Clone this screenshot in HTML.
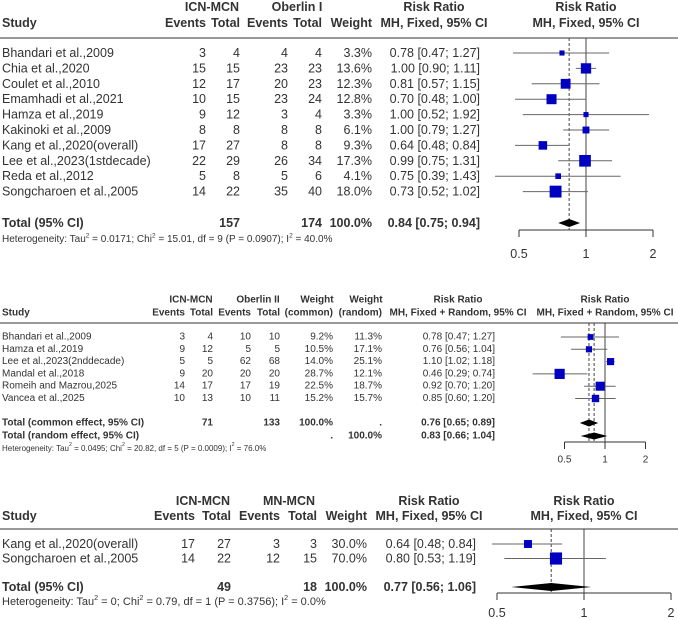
<!DOCTYPE html>
<html><head><meta charset="utf-8"><style>
html,body{margin:0;padding:0;background:#fff;}
svg{display:block;font-family:"Liberation Sans",Arial,sans-serif;}
text{fill:#333;}
</style></head><body>
<svg id="chart" width="678" height="620" viewBox="0 0 678 620" xmlns="http://www.w3.org/2000/svg"></svg>
<script>
// Panel 1: ICN-MCN vs Oberlin I
const studies1 = ["Bhandari et al.,2009","Chia et al.,2020","Coulet et al.,2010","Emamhadi et al.,2021","Hamza et al.,2019","Kakinoki et al.,2009","Kang et al.,2020(overall)","Lee et al.,2023(1stdecade)","Reda et al.,2012","Songcharoen et al.,2005"];
const evA1 = [3,15,12,10,9,8,17,22,5,14];
const totA1 = [4,15,17,15,12,8,27,29,8,22];
const evB1 = [4,23,20,23,3,8,8,26,5,35];
const totB1 = [4,23,23,24,4,8,8,34,6,40];
const weight1 = [3.3,13.6,12.3,12.8,3.3,6.1,9.3,17.3,4.1,18.0];
const rr1 = [0.78,1.00,0.81,0.70,1.00,1.00,0.64,0.99,0.75,0.73];
const lo1 = [0.47,0.90,0.57,0.48,0.52,0.79,0.48,0.75,0.39,0.52];
const hi1 = [1.27,1.11,1.15,1.00,1.92,1.27,0.84,1.31,1.43,1.02];
const total1 = {a:157,b:174,rr:0.84,lo:0.75,hi:0.94};
const ticks1 = [0.5,1,2];

// Panel 2: ICN-MCN vs Oberlin II
const studies2 = ["Bhandari et al.,2009","Hamza et al.,2019","Lee et al.,2023(2nddecade)","Mandal et al.,2018","Romeih and Mazrou,2025","Vancea et al.,2025"];
const evA2 = [3,9,5,9,14,10];
const totA2 = [4,12,5,20,17,13];
const evB2 = [10,5,62,20,17,10];
const totB2 = [10,5,68,20,19,11];
const wCommon2 = [9.2,10.5,14.0,28.7,22.5,15.2];
const wRandom2 = [11.3,17.1,25.1,12.1,18.7,15.7];
const rr2 = [0.78,0.76,1.10,0.46,0.92,0.85];
const lo2 = [0.47,0.56,1.02,0.29,0.70,0.60];
const hi2 = [1.27,1.04,1.18,0.74,1.20,1.20];
const common2 = {a:71,b:133,rr:0.76,lo:0.65,hi:0.89};
const random2 = {rr:0.83,lo:0.66,hi:1.04};
const ticks2 = [0.5,1,2];

// Panel 3: ICN-MCN vs MN-MCN
const studies3 = ["Kang et al.,2020(overall)","Songcharoen et al.,2005"];
const evA3 = [17,14];
const totA3 = [27,22];
const evB3 = [3,12];
const totB3 = [3,15];
const weight3 = [30.0,70.0];
const rr3 = [0.64,0.80];
const lo3 = [0.48,0.53];
const hi3 = [0.84,1.19];
const total3 = {a:49,b:18,rr:0.77,lo:0.56,hi:1.06};
const ticks3 = [0.5,1,2];

const NS="http://www.w3.org/2000/svg";
const svg=document.getElementById('chart');
function el(tag,attrs,parent){const e=document.createElementNS(NS,tag);for(const k in attrs)e.setAttribute(k,attrs[k]);(parent||svg).appendChild(e);return e;}
function txt(s,x,y,size,anchor,bold,parent){const t=el('text',{x:x,y:y,'font-size':size,'text-anchor':anchor||'start','dominant-baseline':'central'},parent);if(bold)t.setAttribute('font-weight','bold');t.textContent=s;return t;}
function ci(r,l,h){return r.toFixed(2)+" ["+l.toFixed(2)+"; "+h.toFixed(2)+"]";}
function het(parent,x,y,size,tau,chi,df,p,i2){
  const t=el('text',{x:x,y:y,'font-size':size,'dominant-baseline':'central'},parent);
  const parts=[["Heterogeneity: Tau",0],["2",1],[" = "+tau+"; Chi",0],["2",1],[" = "+chi+", df = "+df+" (P = "+p+"); I",0],["2",1],[" = "+i2,0]];
  parts.forEach(([s,sup])=>{const ts=el('tspan',{},t);if(sup){ts.setAttribute('font-size',size*0.65);ts.setAttribute('dy',-size*0.35);}else if(t.childNodes.length>1){ts.setAttribute('dy',size*0.35);}ts.textContent=s;});
  // fix dy sequence
  return t;
}
function makeX(x1,pxPerLog2){return v=>x1+pxPerLog2*Math.log2(v);}
function axis(g,xs,ticks,y,ty,tickSize){
  el('line',{x1:xs(ticks[0]),x2:xs(ticks[ticks.length-1]),y1:y,y2:y,stroke:'#333','stroke-width':1},g);
  ticks.forEach(t=>{
    const l=el('line',{x1:xs(t),x2:xs(t),y1:y,y2:y+7,stroke:'#333','stroke-width':1},g);
    
    const lb=txt(String(t),xs(t),ty,tickSize,'middle',false,g);
    
    
  });
}
function study(g,xs,y,r,l,h,side,clipL,clipR){
  const x1=Math.max(xs(l),clipL),x2=Math.min(xs(h),clipR);
  const ln=el('line',{x1:x1,x2:x2,y1:y,y2:y,stroke:'#666','stroke-width':1},g);
  
  const sq=el('rect',{x:xs(r)-side/2,y:y-side/2,width:side,height:side,fill:'#0000c0'},g);
  
  
}
function diamond(g,xs,y,o,hh){
  const d=el('polygon',{points:xs(o.lo)+","+y+" "+xs(o.rr)+","+(y-hh)+" "+xs(o.hi)+","+y+" "+xs(o.rr)+","+(y+hh),fill:'#000'},g);
  
  
}
function vline(g,x,y1,y2,dash,name){const l=el('line',{x1:x,x2:x,y1:y1,y2:y2,stroke:'#444','stroke-width':1},g);if(dash)l.setAttribute('stroke-dasharray','3,2');}

// ---------- Panel 1 ----------
(function(){
  const g=el('g',{});
  
  
  const fs=12.5, xs=makeX(586,67);
  const rowY=i=>53+i*15.4;
  [["ICN-MCN",212],["Oberlin I",297],["Risk Ratio",434],["Risk Ratio",586]].forEach(([s,x])=>txt(s,x,7,fs,'middle',true,g));
  txt("Study",2,23,fs,'start',true,g);
  [["Events",206],["Total",240],["Events",288],["Total",322],["Weight",372]].forEach(([s,x])=>txt(s,x,23,fs,'end',true,g));
  txt("MH, Fixed, 95% CI",434,23,fs,'middle',true,g);
  txt("MH, Fixed, 95% CI",586,23,fs,'middle',true,g);
  el('line',{x1:0,x2:678,y1:38,y2:38,stroke:'#999','stroke-width':2},g);
  vline(g,xs(1),38,230,false,'null-line');
  vline(g,xs(total1.rr),38,230,true,'summary-line');
  studies1.forEach((s,i)=>{
    const y=rowY(i);
    txt(s,2,y,fs,'start',false,g);
    txt(evA1[i],206,y,fs,'end',false,g);txt(totA1[i],240,y,fs,'end',false,g);
    txt(evB1[i],288,y,fs,'end',false,g);txt(totB1[i],322,y,fs,'end',false,g);
    txt(weight1[i].toFixed(1)+"%",372,y,fs,'end',false,g);
    txt(ci(rr1[i],lo1[i],hi1[i]),480,y,fs,'end',false,g);
    study(g,xs,y,rr1[i],lo1[i],hi1[i],2.8*Math.sqrt(weight1[i]),492,678);
  });
  txt("Total (95% CI)",2,223,fs,'start',true,g);
  txt(total1.a,240,223,fs,'end',true,g);txt(total1.b,322,223,fs,'end',true,g);
  txt("100.0%",372,223,fs,'end',true,g);
  txt(ci(total1.rr,total1.lo,total1.hi),480,223,fs,'end',true,g);
  diamond(g,xs,223,total1,4);
  het(g,2,239,10,"0.0171","15.01",9,"0.0907","40.0%");
  axis(g,xs,ticks1,230,254,12.5);
})();

// ---------- Panel 2 ----------
(function(){
  const g=el('g',{});
  
  
  const fs=10, xs=makeX(605,40.5);
  const rowY=i=>337+i*12.3;
  [["ICN-MCN",191],["Oberlin II",258],["Weight",317],["Weight",366],["Risk Ratio",458],["Risk Ratio",605]].forEach(([s,x])=>txt(s,x,300,fs,'middle',true,g));
  txt("Study",2,313,fs,'start',true,g);
  [["Events",185],["Total",213],["Events",251],["Total",280],["(common)",333],["(random)",382]].forEach(([s,x])=>txt(s,x,313,fs,'end',true,g));
  txt("MH, Fixed + Random, 95% CI",458,313,fs,'middle',true,g);
  txt("MH, Fixed + Random, 95% CI",605,313,fs,'middle',true,g);
  el('line',{x1:0,x2:678,y1:323,y2:323,stroke:'#999','stroke-width':2},g);
  vline(g,xs(1),323,442,false,'null-line');
  vline(g,xs(common2.rr),323,442,true,'common-summary-line');
  vline(g,xs(random2.rr),323,442,true,'random-summary-line');
  studies2.forEach((s,i)=>{
    const y=rowY(i);
    txt(s,2,y,fs,'start',false,g);
    txt(evA2[i],185,y,fs,'end',false,g);txt(totA2[i],213,y,fs,'end',false,g);
    txt(evB2[i],251,y,fs,'end',false,g);txt(totB2[i],280,y,fs,'end',false,g);
    txt(wCommon2[i].toFixed(1)+"%",333,y,fs,'end',false,g);
    txt(wRandom2[i].toFixed(1)+"%",382,y,fs,'end',false,g);
    txt(ci(rr2[i],lo2[i],hi2[i]),495,y,fs,'end',false,g);
    study(g,xs,y,rr2[i],lo2[i],hi2[i],1.9*Math.sqrt(wCommon2[i]),520,678);
  });
  txt("Total (common effect, 95% CI)",2,423,fs,'start',true,g);
  txt(common2.a,213,423,fs,'end',true,g);txt(common2.b,280,423,fs,'end',true,g);
  txt("100.0%",333,423,fs,'end',true,g);txt(".",382,423,fs,'end',true,g);
  txt(ci(common2.rr,common2.lo,common2.hi),495,423,fs,'end',true,g);
  diamond(g,xs,423,common2,3.5);
  txt("Total (random effect, 95% CI)",2,436,fs,'start',true,g);
  txt(".",333,436,fs,'end',true,g);txt("100.0%",382,436,fs,'end',true,g);
  txt(ci(random2.rr,random2.lo,random2.hi),495,436,fs,'end',true,g);
  diamond(g,xs,436,random2,3.5);
  het(g,2,448,8,"0.0495","20.82",5,"0.0009","76.0%");
  axis(g,xs,ticks2,442,460,10);
})();

// ---------- Panel 3 ----------
(function(){
  const g=el('g',{});
  
  
  const fs=12.5, xs=makeX(584,87);
  const rowY=i=>544+i*14.5;
  [["ICN-MCN",203],["MN-MCN",289],["Risk Ratio",429],["Risk Ratio",584]].forEach(([s,x])=>txt(s,x,501,fs,'middle',true,g));
  txt("Study",2,516,fs,'start',true,g);
  [["Events",195],["Total",231],["Events",280],["Total",317],["Weight",367]].forEach(([s,x])=>txt(s,x,516,fs,'end',true,g));
  txt("MH, Fixed, 95% CI",429,516,fs,'middle',true,g);
  txt("MH, Fixed, 95% CI",584,516,fs,'middle',true,g);
  el('line',{x1:0,x2:678,y1:529,y2:529,stroke:'#999','stroke-width':2},g);
  vline(g,xs(1),529,593,false,'null-line');
  vline(g,xs(total3.rr),529,593,true,'summary-line');
  studies3.forEach((s,i)=>{
    const y=rowY(i);
    txt(s,2,y,fs,'start',false,g);
    txt(evA3[i],195,y,fs,'end',false,g);txt(totA3[i],231,y,fs,'end',false,g);
    txt(evB3[i],280,y,fs,'end',false,g);txt(totB3[i],317,y,fs,'end',false,g);
    txt(weight3[i].toFixed(1)+"%",367,y,fs,'end',false,g);
    txt(ci(rr3[i],lo3[i],hi3[i]),476,y,fs,'end',false,g);
    study(g,xs,y,rr3[i],lo3[i],hi3[i],1.45*Math.sqrt(weight3[i]),490,678);
  });
  txt("Total (95% CI)",2,587,fs,'start',true,g);
  txt(total3.a,231,587,fs,'end',true,g);txt(total3.b,317,587,fs,'end',true,g);
  txt("100.0%",367,587,fs,'end',true,g);
  txt(ci(total3.rr,total3.lo,total3.hi),476,587,fs,'end',true,g);
  diamond(g,xs,587,total3,4);
  het(g,2,602,11,"0","0.79",1,"0.3756","0.0%");
  axis(g,xs,ticks3,593,613,12.5);
})();
</script>
</body></html>
